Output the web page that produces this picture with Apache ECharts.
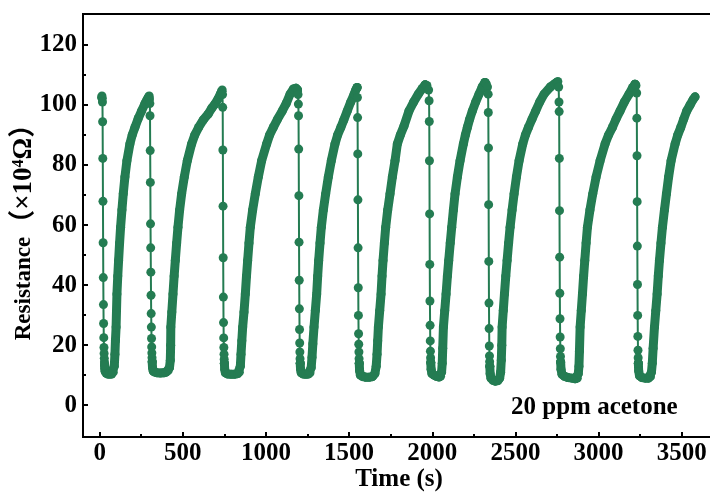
<!DOCTYPE html>
<html>
<head>
<meta charset="utf-8">
<script src="https://cdn.jsdelivr.net/npm/echarts@6/dist/echarts.min.js"></script>
<style>
  html, body { margin: 0; padding: 0; background: #fff; }
  #chart { width: 710px; height: 492px; }
</style>
</head>
<body>
<div id="chart"></div>
<script>
// time (s) / resistance (x10^4 ohm)
// fall = fast drop after gas in (sparse markers), rise = recovery (dense band)
const fall1 = [[12, 102.5], [14, 103], [16, 102.2], [17, 101], [18, 94.4], [19, 82.2], [20, 67.9], [21, 54.1], [22, 42.5], [23, 33.5], [24, 27.2], [25, 22.5], [26, 19.2], [27, 17.2], [28, 15.6], [29, 14.4], [30, 13.4]]
const rise1 = [[30, 13.4], [31, 12.2], [33, 11.3], [38, 10.7], [48, 10.4], [60, 10.3], [72, 10.4], [82, 11], [88, 13], [92, 17], [95, 21.5], [99, 26], [104, 37], [109, 43], [114, 48.2], [120, 54], [126, 59.3], [134, 65], [142, 70.4], [152, 76], [164, 81.4], [182, 87], [196, 90], [212, 92.5], [232, 95.5], [252, 98], [272, 100.4], [285, 101.8], [295, 102.7]]

const fall2 = [[295, 102.7], [298, 103], [300, 102], [302, 100.5], [303, 96.4], [304, 84.8], [305, 74.2], [306, 60.4], [307, 52.4], [308, 44.3], [309, 36.6], [310, 30.5], [311, 26], [312, 22.2], [313, 19.4], [314, 17.4], [315, 15.8], [316, 14.5]]
const rise2 = [[316, 14.5], [318, 12.5], [322, 11.4], [330, 11], [345, 10.8], [365, 10.7], [385, 10.8], [400, 11], [412, 11.5], [420, 12.5], [425, 15], [427, 20], [428, 26], [434, 31], [441, 37], [448, 43], [455, 48.2], [463, 54], [471, 59.3], [481, 65], [493, 70.4], [509, 76], [527, 81.4], [553, 87], [572, 90], [595, 92.5], [623, 95], [653, 97], [675, 99], [693, 100.3], [712, 102], [725, 103.5], [734, 104.5]]

const fall3 = [[734, 104.5], [737, 105], [739, 103.5], [740, 99.2], [741, 85], [742, 66.3], [743, 49.1], [744, 36], [745, 27.5], [746, 22.4], [747, 19.2], [748, 17], [749, 15.3], [750, 14]]
const rise3 = [[750, 14], [752, 12], [756, 10.8], [770, 10.4], [790, 10.3], [810, 10.3], [830, 10.5], [840, 11], [846, 13], [850, 17], [855, 21.5], [860, 26], [868, 31], [876, 37], [883, 43], [890, 48.2], [898, 54], [906, 59.3], [920, 65], [936, 70.4], [954, 76], [974, 81.4], [1004, 87], [1022, 90], [1044, 92.5], [1070, 95.3], [1098, 98], [1122, 100.5], [1145, 103.6], [1165, 105.3], [1180, 105.6], [1190, 105]]

const fall4 = [[1190, 105], [1193, 103.5], [1195, 100.3], [1196, 96.4], [1197, 85.3], [1198, 69.8], [1199, 54.3], [1200, 41.6], [1201, 32.1], [1202, 25.2], [1203, 20.7], [1204, 17.7], [1205, 15.5], [1206, 14]]
const rise4 = [[1206, 14], [1208, 12], [1212, 10.8], [1225, 10.4], [1240, 10.3], [1255, 10.4], [1265, 10.8], [1272, 12.5], [1277, 16], [1282, 20.5], [1289, 26], [1297, 31.5], [1305, 37], [1311, 43], [1317, 48.2], [1325, 54], [1333, 59.3], [1345, 65], [1359, 70.4], [1375, 76], [1393, 81.4], [1415, 87], [1431, 90], [1450, 92.5], [1468, 95], [1489, 98], [1510, 101], [1530, 103.6], [1540, 105], [1548, 105.8]]

const fall5 = [[1548, 105.8], [1550, 102.5], [1551, 95.8], [1552, 83.7], [1553, 68.4], [1554, 52.4], [1555, 39.1], [1556, 29.9], [1557, 23.8], [1558, 20.3], [1559, 17.7], [1560, 15.5], [1561, 14]]
const rise5 = [[1561, 14], [1563, 11.5], [1568, 10], [1580, 9.5], [1600, 9.3], [1620, 9.3], [1640, 9.5], [1655, 10.5], [1663, 13], [1668, 17], [1672, 21.5], [1676, 26], [1684, 31.5], [1692, 37], [1698, 43], [1704, 48.2], [1712, 54], [1720, 59.3], [1732, 65], [1746, 70.4], [1760, 76], [1776, 81.4], [1790, 87], [1808, 90], [1830, 93], [1860, 98], [1888, 101], [1916, 103.6], [1940, 105.5], [1957, 106.7]]

const fall6 = [[1957, 106.7], [1968, 106.5], [1978, 105], [1981, 101.4], [1982, 94.5], [1983, 81.4], [1984, 63.7], [1985, 46.9], [1986, 34.7], [1987, 26.6], [1988, 21.4], [1989, 18], [1990, 15.8], [1991, 14.2]]
const rise6 = [[1991, 14.2], [1993, 12], [1998, 10.5], [2010, 10], [2025, 9.6], [2040, 9.4], [2050, 9.6], [2056, 11], [2060, 14], [2063, 19], [2067, 26], [2075, 31.5], [2083, 37], [2091, 43], [2099, 48.2], [2108, 54], [2117, 59.3], [2127, 65], [2137, 70.4], [2151, 76], [2167, 81.4], [2187, 87], [2199, 90], [2211, 92.5], [2225, 95.3], [2241, 98], [2261, 101], [2281, 103.6], [2300, 106], [2317, 107.5]]

const fall7 = [[2317, 107.5], [2325, 107], [2332, 106], [2336, 103.6], [2337, 97.5], [2338, 85.7], [2339, 66.8], [2340, 47.9], [2341, 34], [2342, 25.5], [2343, 19.7], [2344, 16.4], [2345, 14.5], [2346, 13]]
const rise7 = [[2346, 13], [2348, 10.5], [2353, 9], [2365, 8.3], [2380, 8], [2395, 8.2], [2405, 9], [2411, 11], [2415, 15], [2418, 20], [2420, 26], [2427, 31.5], [2434, 37], [2442, 43], [2450, 48.2], [2459, 54], [2468, 59.3], [2480, 65], [2492, 70.4], [2506, 76], [2522, 81.4], [2544, 87], [2560, 90], [2578, 92.5], [2600, 95.3], [2622, 98], [2646, 101], [2672, 103.6], [2710, 106], [2735, 107], [2749, 107.5]]

const fall8 = [[2749, 107.5], [2755, 107.8], [2760, 106], [2762, 101], [2763, 97.8], [2764, 82.2], [2765, 64.8], [2766, 49.3], [2767, 37.3], [2768, 28.8], [2769, 22.7], [2770, 18.8], [2771, 16.2], [2772, 14.4]]
const rise8 = [[2772, 14.4], [2774, 12], [2780, 10.3], [2795, 9.6], [2815, 9.2], [2840, 9], [2860, 8.8], [2872, 9], [2878, 10.5], [2882, 13], [2885, 18], [2889, 26], [2896, 31.5], [2903, 37], [2910, 43], [2917, 48.2], [2925, 54], [2933, 59.3], [2948, 65], [2965, 70.4], [2985, 76], [3009, 81.4], [3039, 87], [3060, 90], [3083, 92.5], [3105, 95.3], [3129, 98], [3155, 101], [3183, 103.6], [3205, 105.8], [3219, 106.9]]

const fall9 = [[3219, 106.9], [3225, 106.5], [3229, 104], [3230, 95.6], [3231, 83.1], [3232, 67.8], [3233, 53], [3234, 40.2], [3235, 29.9], [3236, 22.9], [3237, 18.3], [3238, 15.8], [3239, 14]]
const rise9 = [[3239, 14], [3241, 11.5], [3246, 9.8], [3260, 9.2], [3280, 9], [3300, 9], [3312, 9.5], [3318, 11], [3323, 14], [3328, 19], [3336, 26], [3344, 31.5], [3352, 37], [3359, 43], [3366, 48.2], [3375, 54], [3384, 59.3], [3396, 65], [3408, 70.4], [3421, 76], [3436, 81.4], [3460, 87], [3476, 90], [3494, 92.5], [3512, 95.3], [3530, 98], [3550, 100], [3568, 101.8], [3580, 102.7]]

const xMajorTicks = [0, 500, 1000, 1500, 2000, 2500, 3000, 3500]
const xMinorTicks = [250, 750, 1250, 1750, 2250, 2750, 3250]
const yMajorTicks = [0, 20, 40, 60, 80, 100, 120]
const yMinorTicks = [10, 30, 50, 70, 90, 110]

const green = '#247c52'
const serif = "'Liberation Serif', 'Times New Roman', 'Noto Sans CJK SC', serif"

const rises = [rise1, rise2, rise3, rise4, rise5, rise6, rise7, rise8, rise9]
const falls = [fall1, fall2, fall3, fall4, fall5, fall6, fall7, fall8, fall9]

const riseSeries = rises.map(d => ({
  type: 'line',
  data: d,
  symbol: 'circle',
  symbolSize: 9,
  itemStyle: { color: green },
  lineStyle: { color: green, width: 9, cap: 'round', join: 'round' }
}))
const fallSeries = falls.map(d => ({
  type: 'line',
  data: d,
  symbol: 'circle',
  symbolSize: 9,
  itemStyle: { color: green },
  lineStyle: { color: green, width: 2 }
}))

const labelStyle = { color: '#000', fontFamily: serif, fontWeight: 'bold', fontSize: 25, formatter: v => String(v) }
const nameFont = { color: '#000', fontFamily: serif, fontWeight: 'bold' }

const myChart = echarts.init(document.getElementById('chart'))

myChart.setOption({
  animation: false,
  grid: {
    left: 83,
    right: -5,
    top: 14,
    bottom: 55,
    containLabel: false,
    outerBoundsMode: 'none',
    show: true,
    borderColor: '#000',
    borderWidth: 2,
    backgroundColor: 'transparent'
  },
  xAxis: [
    {
      type: 'value',
      position: 'bottom',
      min: -100,
      max: 3700,
      name: 'Time (s)',
      nameLocation: 'middle',
      nameGap: 30,
      nameMoveOverlap: false,
      nameTextStyle: Object.assign({ fontSize: 25 }, nameFont),
      axisLine: { show: false, onZero: false },
      splitLine: { show: false },
      axisTick: { inside: true, length: 5, customValues: xMajorTicks, lineStyle: { color: '#000', width: 2 } },
      axisLabel: Object.assign({ customValues: xMajorTicks, margin: 4 }, labelStyle)
    },
    {
      type: 'value',
      position: 'bottom',
      min: -100,
      max: 3700,
      axisLine: { show: false, onZero: false },
      splitLine: { show: false },
      axisTick: { inside: true, length: 3, customValues: xMinorTicks, lineStyle: { color: '#000', width: 2 } },
      axisLabel: { show: false }
    }
  ],
  yAxis: [
    {
      type: 'value',
      position: 'left',
      min: -10.6,
      max: 130.3,
      name: '{r|Resistance}{p|（×10}{sup|4}{p|Ω）}',
      nameLocation: 'middle',
      nameGap: 45,
      nameMoveOverlap: false,
      nameTextStyle: Object.assign({
        fontSize: 24,
        rich: {
          r: Object.assign({ fontSize: 23 }, nameFont),
          p: Object.assign({ fontSize: 27 }, nameFont),
          sup: Object.assign({ fontSize: 16, verticalAlign: 'top' }, nameFont)
        }
      }, nameFont),
      axisLine: { show: false, onZero: false },
      splitLine: { show: false },
      axisTick: { inside: true, length: 5, customValues: yMajorTicks, lineStyle: { color: '#000', width: 2 } },
      axisLabel: Object.assign({ customValues: yMajorTicks, margin: 6 }, labelStyle)
    },
    {
      type: 'value',
      position: 'left',
      min: -10.6,
      max: 130.3,
      axisLine: { show: false, onZero: false },
      splitLine: { show: false },
      axisTick: { inside: true, length: 3, customValues: yMinorTicks, lineStyle: { color: '#000', width: 2 } },
      axisLabel: { show: false }
    }
  ],
  graphic: [
    {
      type: 'text',
      left: 511,
      top: 395,
      style: { text: '20 ppm acetone', fill: '#000', font: "bold 25px 'Liberation Serif', serif" }
    }
  ],
  series: riseSeries.concat(fallSeries)
})
</script>
</body>
</html>
